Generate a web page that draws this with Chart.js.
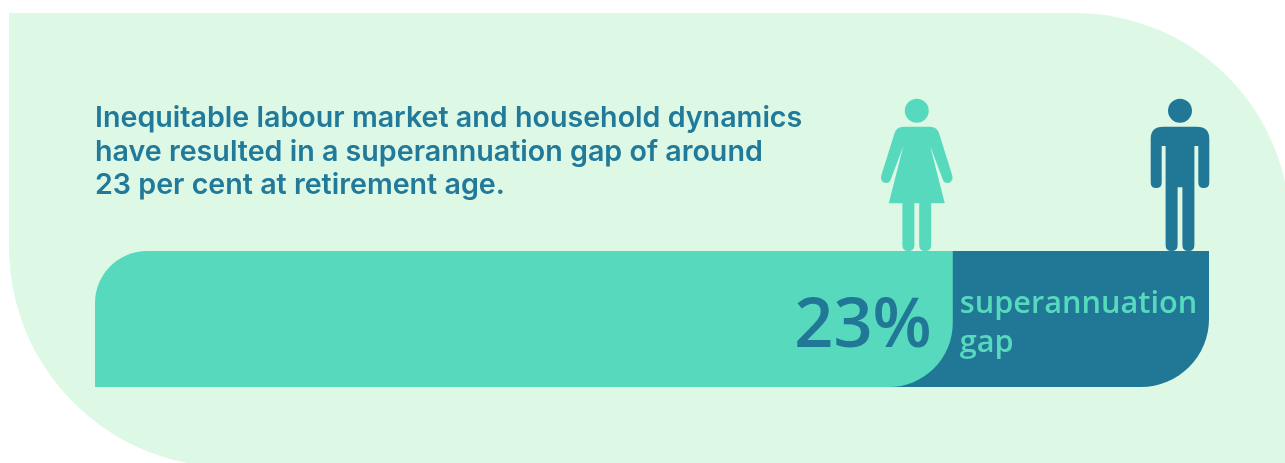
<!DOCTYPE html>
<html>
<head>
<meta charset="utf-8">
<title>Superannuation gap</title>
<script src="https://cdn.jsdelivr.net/npm/chart.js@4"></script>
<style>
  html, body { margin: 0; width: 1285px; height: 463px; overflow: hidden; background: #fff; }
  #panel { position: absolute; left: 9px; top: 13px; width: 1281px; height: 454px; background: #def8e6; border-radius: 0 215px 0 220px; }
  #chart { position: absolute; left: 0; top: 0; }
</style>
</head>
<body>
<div id="panel"></div>
<canvas id="chart" width="1285" height="463"></canvas>
<script>
// Data
const categories = ['Superannuation at retirement age'];
const womenValues = [77];
const menValues = [100];
const gapLabel = '23%';
const gapCaption = ['superannuation', 'gap'];
const titleLines = [
  'Inequitable labour market and household dynamics',
  'have resulted in a superannuation gap of around',
  '23 per cent at retirement age.'
];

const TEAL = '#57d9be';
const BLUE = '#207896';
const TEXT_BLUE = '#217a99';
const LABEL_FONT = '"Open Sans", "Noto Sans", sans-serif';

// the dark bar starts under the teal one so its rounded corner has something behind it
const MEN_BAR_START = 70;

// Pictograms, origin = middle of the feet on top of the bar
function womanIcon() {
  const p = new Path2D();
  p.arc(0, -140.3, 12, 0, Math.PI * 2);
  [-1, 1].forEach(s => {
    p.moveTo(0, -124.3);
    p.lineTo(s * 13, -124.3);
    p.quadraticCurveTo(s * 20.5, -124.3, s * 22.5, -117);
    p.lineTo(s * 35.5, -75.5);
    p.quadraticCurveTo(s * 37, -69.5, s * 31.5, -68);
    p.quadraticCurveTo(s * 27.5, -67.5, s * 26, -71.5);
    p.lineTo(s * 13.4, -105);
    p.lineTo(s * 28, -47.7);
    p.lineTo(s * 14.4, -47.7);
    p.lineTo(s * 14.4, -6);
    p.quadraticCurveTo(s * 14.4, 0, s * 8.4, 0);
    p.quadraticCurveTo(s * 2.4, 0, s * 2.4, -6);
    p.lineTo(s * 2.4, -47.7);
    p.lineTo(0, -47.7);
    p.closePath();
  });
  return p;
}

function manIcon() {
  const p = new Path2D();
  p.arc(0, -140.3, 12, 0, Math.PI * 2);
  [-1, 1].forEach(s => {
    p.moveTo(0, -124.3);
    p.lineTo(s * 17, -124.3);
    p.quadraticCurveTo(s * 29.3, -124.3, s * 29.3, -112);
    p.lineTo(s * 29.3, -68.5);
    p.quadraticCurveTo(s * 29.3, -63, s * 23.8, -63);
    p.quadraticCurveTo(s * 18.3, -63, s * 18.3, -68.5);
    p.lineTo(s * 18.3, -105);
    p.lineTo(s * 14.4, -105);
    p.lineTo(s * 14.4, -6);
    p.quadraticCurveTo(s * 14.4, 0, s * 8.4, 0);
    p.quadraticCurveTo(s * 2.4, 0, s * 2.4, -6);
    p.lineTo(s * 2.4, -63.7);
    p.lineTo(0, -63.7);
    p.closePath();
  });
  return p;
}

// Draws the gap label, caption and the two figures, anchored on the scales
const gapAnnotations = {
  id: 'gapAnnotations',
  afterDatasetsDraw(chart) {
    const { ctx, chartArea } = chart;
    const x = chart.scales.x;
    const womenEnd = x.getPixelForValue(womenValues[0]);
    const menEnd = x.getPixelForValue(menValues[0]);
    const top = chartArea.top;

    ctx.save();
    ctx.textBaseline = 'alphabetic';

    ctx.textAlign = 'right';
    ctx.fillStyle = BLUE;
    ctx.font = '600 68.5px ' + LABEL_FONT;
    ctx.fillText(gapLabel, womenEnd - 21, top + 96);

    ctx.textAlign = 'left';
    ctx.fillStyle = TEAL;
    ctx.font = '600 30.7px ' + LABEL_FONT;
    gapCaption.forEach((line, i) => {
      ctx.fillText(line, womenEnd + 7, top + 62 + i * 39);
    });

    ctx.translate(womenEnd - 36, top);
    ctx.fillStyle = TEAL;
    ctx.fill(womanIcon());
    ctx.translate(menEnd - 29 - (womenEnd - 36), 0);
    ctx.fillStyle = BLUE;
    ctx.fill(manIcon());
    ctx.restore();
  }
};

new Chart(document.getElementById('chart'), {
  type: 'bar',
  data: {
    labels: categories,
    datasets: [
      {
        label: 'Women',
        data: womenValues,
        backgroundColor: TEAL,
        borderSkipped: false,
        inflateAmount: 0,
        borderRadius: { topLeft: 52, topRight: 0, bottomLeft: 0, bottomRight: 64 }
      },
      {
        label: 'Men',
        data: menValues.map(v => [MEN_BAR_START, v]),
        backgroundColor: BLUE,
        borderSkipped: false,
        inflateAmount: 0,
        borderRadius: { topLeft: 0, topRight: 0, bottomLeft: 0, bottomRight: 68 }
      }
    ]
  },
  options: {
    indexAxis: 'y',
    responsive: false,
    animation: false,
    layout: { padding: { left: 95, right: 76, top: 102, bottom: 76 } },
    datasets: { bar: { grouped: false, barPercentage: 1, categoryPercentage: 1 } },
    plugins: {
      legend: { display: false },
      tooltip: { enabled: false },
      title: {
        display: true,
        text: titleLines,
        align: 'start',
        color: TEXT_BLUE,
        font: { family: 'Inter, sans-serif', size: 28.65, weight: '600', lineHeight: '33.5px' },
        padding: { top: 0, bottom: 48.5 }
      }
    },
    scales: {
      x: { min: 0, max: 100, display: false },
      y: { display: false }
    }
  },
  plugins: [gapAnnotations]
});
</script>
</body>
</html>
